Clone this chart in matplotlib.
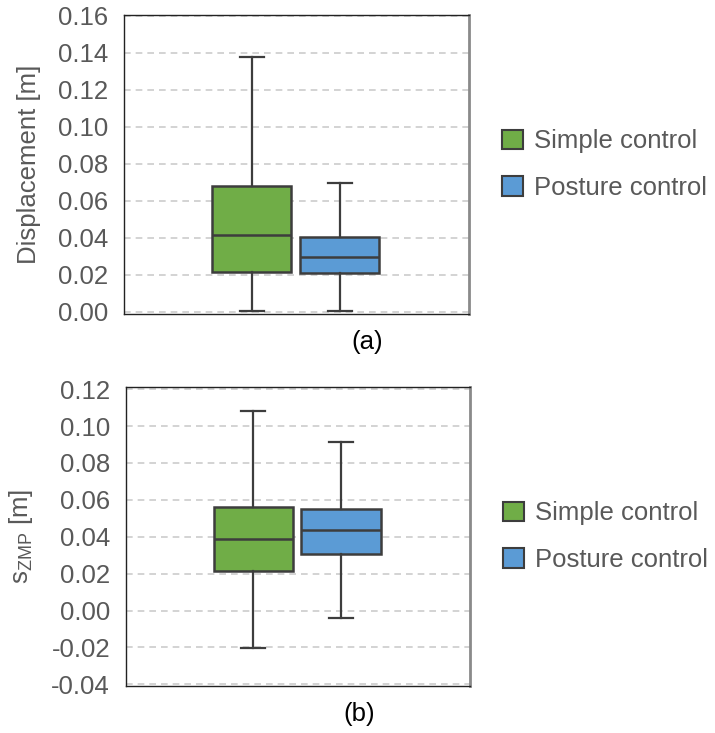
import matplotlib.pyplot as plt
from matplotlib.patches import Patch

plt.rcParams['font.family'] = ['Liberation Sans', 'DejaVu Sans']

groups = ['Simple control', 'Posture control']
colors = ['#70ad47', '#5b9bd5']

# (whisker low, Q1, median, Q3, whisker high)
disp_simple = [0.0004, 0.0213, 0.0416, 0.0678, 0.1377]
disp_posture = [0.0004, 0.0211, 0.0298, 0.0405, 0.0699]
zmp_simple = [-0.0201, 0.0217, 0.0388, 0.0564, 0.1082]
zmp_posture = [-0.0038, 0.0307, 0.0435, 0.0551, 0.0914]

disp_ticks = [0.00, 0.02, 0.04, 0.06, 0.08, 0.10, 0.12, 0.14, 0.16]
zmp_ticks = [-0.04, -0.02, 0.00, 0.02, 0.04, 0.06, 0.08, 0.10, 0.12]

txt = '#595959'
edge = '#3d3d3d'


def to_stats(v):
    return dict(whislo=v[0], q1=v[1], med=v[2], q3=v[3], whishi=v[4], fliers=[])


def draw(ax, series, ticks, ylim, ylabel, tag, tagx, lpad):
    bp = ax.bxp([to_stats(s) for s in series], positions=[-0.13, 0.125],
                widths=0.23, capwidths=0.07, patch_artist=True,
                boxprops=dict(edgecolor=edge, linewidth=1.8),
                medianprops=dict(color=edge, linewidth=1.8),
                whiskerprops=dict(color=edge, linewidth=1.6),
                capprops=dict(color=edge, linewidth=1.6), zorder=3)
    for patch, c in zip(bp['boxes'], colors):
        patch.set_facecolor(c)
    ax.set_xlim(-0.5, 0.5)
    ax.set_ylim(*ylim)
    ax.set_yticks(ticks)
    ax.set_yticklabels(['%.2f' % t for t in ticks])
    ax.set_xticks([])
    ax.tick_params(axis='y', length=0, labelsize=18.5, labelcolor=txt, pad=11.5)
    ax.yaxis.grid(True, linestyle=(0, (4, 3)), color='#cccccc', linewidth=1.2)
    ax.set_axisbelow(True)
    ax.set_ylabel(ylabel, fontsize=18.5, color=txt, labelpad=lpad)
    for s in ['top', 'left', 'bottom']:
        ax.spines[s].set_color('#222222')
        ax.spines[s].set_linewidth(1.0)
    ax.spines['right'].set_color('#8a8a8a')
    ax.spines['right'].set_linewidth(2.0)
    ax.set_xlabel(tag, fontsize=18.5, color='black')
    ax.xaxis.set_label_coords(tagx, -0.055)
    handles = [Patch(facecolor=c, edgecolor=edge, linewidth=1.5) for c in colors]
    ax.legend(handles, groups, loc='center left', bbox_to_anchor=(1.096, 0.5),
              frameon=False, fontsize=18.5, labelcolor=txt, handlelength=0.8,
              handleheight=0.8, handletextpad=0.43, labelspacing=0.87,
              borderpad=0, borderaxespad=0)


fig = plt.figure(figsize=(7.15, 7.33), dpi=100)
ax1 = fig.add_axes([124 / 715, 1 - 314 / 733, 345 / 715, 299 / 733])
ax2 = fig.add_axes([126 / 715, 1 - 686 / 733, 344 / 715, 299 / 733])

draw(ax1, [disp_simple, disp_posture], disp_ticks, (-0.0012, 0.1605),
     'Displacement [m]', '(a)', 0.704, 12)
draw(ax2, [zmp_simple, zmp_posture], zmp_ticks, (-0.0409, 0.1212),
     r'$\mathregular{s_{ZMP}}$ [m]', '(b)', 0.677, 12)

fig.savefig('out.png', dpi=100)
